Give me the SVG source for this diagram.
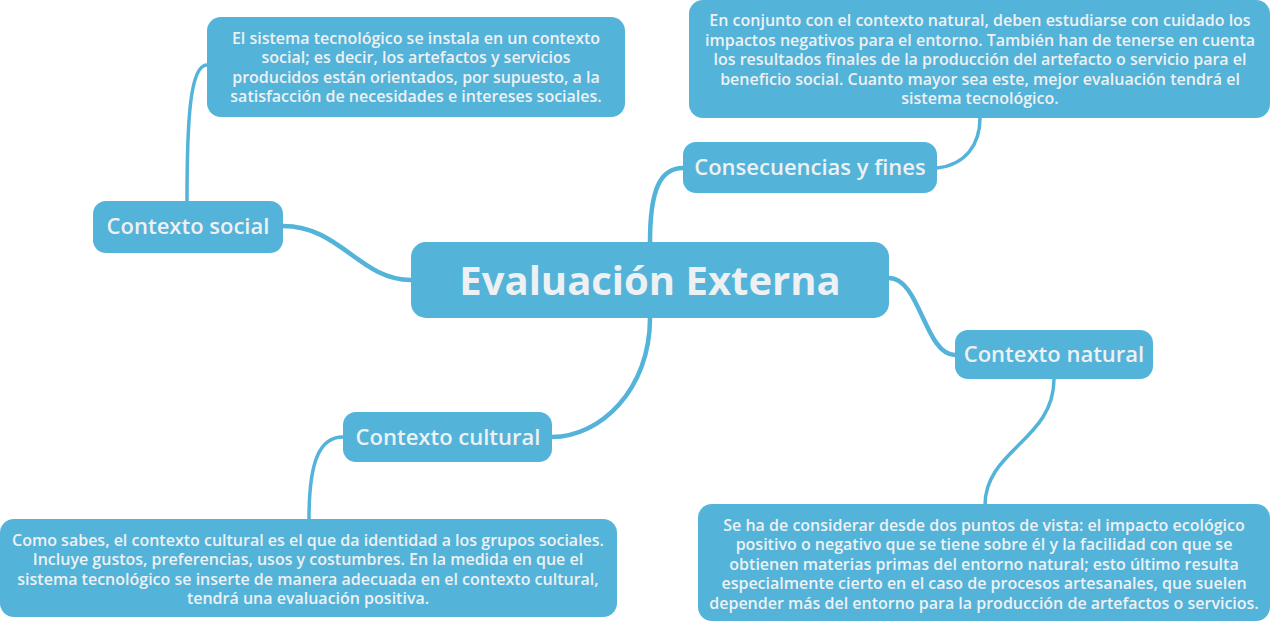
<svg xmlns="http://www.w3.org/2000/svg" width="1271" height="622" viewBox="0 0 1271 622">
<style>
.box{fill:#53b3d9}
.t{font-family:"Open Sans","Noto Sans","Liberation Sans",sans-serif;fill:#eef1f3;text-anchor:middle;font-weight:600}
.s{font-size:16px}
.m{font-size:22px}
.l{font-size:40px;font-weight:700}
.c{fill:none;stroke:#53b3d9;stroke-linecap:round}
.c1{stroke-width:4.5}
.c2{stroke-width:3.5}
</style>
<rect width="1271" height="622" fill="#ffffff"/>
<g id="connectors">
<path class="c c1" d="M411,280 C360,280 340,226 283,226"/>
<path class="c c1" d="M650,242 C650,190 660,168 683,168"/>
<path class="c c1" d="M889,278 C920,278 925,355 955,355"/>
<path class="c c1" d="M650,318 C650,390 600,437 552,437"/>
<path class="c c2" d="M187,201 C187,120 190,65 207,65"/>
<path class="c c2" d="M937,168 C965,165 980,145 980,118"/>
<path class="c c2" d="M1054,379 C1054,440 985,450 985,505"/>
<path class="c c2" d="M343,437 C320,437 309,460 309,519"/>
</g>
<g id="center">
<rect class="box" x="411" y="242" width="478" height="76" rx="15"/>
<text class="t l" x="650" y="295">Evaluación Externa</text>
</g>
<g id="social">
<rect class="box" x="93" y="201" width="190" height="52" rx="13"/>
<text class="t m" x="188" y="234">Contexto social</text>
</g>
<g id="social-text">
<rect class="box" x="207" y="17" width="418" height="100" rx="14"/>
<text class="t s" x="416" y="44">El sistema tecnológico se instala en un contexto</text>
<text class="t s" x="416" y="63">social; es decir, los artefactos y servicios</text>
<text class="t s" x="416" y="83">producidos están orientados, por supuesto, a la</text>
<text class="t s" x="416" y="102">satisfacción de necesidades e intereses sociales.</text>
</g>
<g id="consecuencias">
<rect class="box" x="683" y="142" width="254" height="51" rx="13"/>
<text class="t m" x="810" y="175">Consecuencias y fines</text>
</g>
<g id="consecuencias-text">
<rect class="box" x="689" y="0" width="581" height="118" rx="14"/>
<text class="t s" x="980" y="26">En conjunto con el contexto natural, deben estudiarse con cuidado los</text>
<text class="t s" x="980" y="46">impactos negativos para el entorno. También han de tenerse en cuenta</text>
<text class="t s" x="980" y="65">los resultados finales de la producción del artefacto o servicio para el</text>
<text class="t s" x="980" y="85">beneficio social. Cuanto mayor sea este, mejor evaluación tendrá el</text>
<text class="t s" x="980" y="104">sistema tecnológico.</text>
</g>
<g id="natural">
<rect class="box" x="955" y="330" width="198" height="49" rx="13"/>
<text class="t m" x="1054" y="362">Contexto natural</text>
</g>
<g id="natural-text">
<rect class="box" x="698" y="504" width="572" height="117" rx="14"/>
<text class="t s" x="984" y="531">Se ha de considerar desde dos puntos de vista: el impacto ecológico</text>
<text class="t s" x="984" y="550">positivo o negativo que se tiene sobre él y la facilidad con que se</text>
<text class="t s" x="984" y="570">obtienen materias primas del entorno natural; esto último resulta</text>
<text class="t s" x="984" y="589">especialmente cierto en el caso de procesos artesanales, que suelen</text>
<text class="t s" x="984" y="609">depender más del entorno para la producción de artefactos o servicios.</text>
</g>
<g id="cultural">
<rect class="box" x="343" y="412" width="209" height="50" rx="13"/>
<text class="t m" x="448" y="445">Contexto cultural</text>
</g>
<g id="cultural-text">
<rect class="box" x="0" y="519" width="617" height="98" rx="14"/>
<text class="t s" x="308" y="546">Como sabes, el contexto cultural es el que da identidad a los grupos sociales.</text>
<text class="t s" x="308" y="565">Incluye gustos, preferencias, usos y costumbres. En la medida en que el</text>
<text class="t s" x="308" y="585">sistema tecnológico se inserte de manera adecuada en el contexto cultural,</text>
<text class="t s" x="308" y="604">tendrá una evaluación positiva.</text>
</g>
</svg>
